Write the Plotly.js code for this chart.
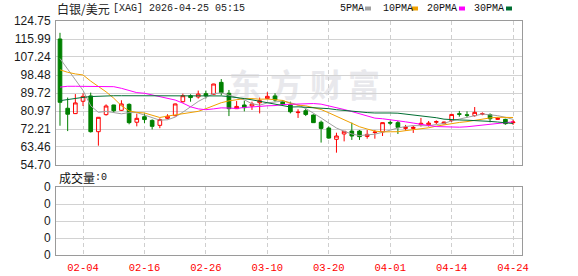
<!DOCTYPE html>
<html>
<head>
<meta charset="utf-8">
<script src="https://cdn.plot.ly/plotly-3.0.1.min.js"></script>
<style>
html,body{margin:0;padding:0;background:#fff;}
#chart{width:578px;height:276px;}
</style>
</head>
<body>
<div id="chart"></div>
<script>
// ---- data ----
const dates = ["01-30","02-02","02-03","02-04","02-05","02-06","02-09","02-10","02-11","02-12",
  "02-13","02-16","02-17","02-18","02-19","02-20","02-23","02-24","02-25","02-26",
  "02-27","03-02","03-03","03-04","03-05","03-06","03-09","03-10","03-11","03-12",
  "03-13","03-16","03-17","03-18","03-19","03-20","03-23","03-24","03-25","03-26",
  "03-27","03-30","03-31","04-01","04-02","04-06","04-07","04-08","04-09","04-10",
  "04-13","04-14","04-15","04-16","04-17","04-20","04-21","04-22","04-23","04-24"];

const open  = [116.0,82.3,79.7,85.7,88.3,70.9,79.2,83.9,81.3,84.2, 75.5,78.2,76.4,74.0,77.4,78.7,85.5,88.4,87.8,89.4,
  89.1,94.9,89.6,82.1,83.9,83.4,85.0,87.0,88.3,85.7, 84.0,80.2,81.1,79.0,75.5,72.7,67.2,69.8,71.2,71.2,
  68.6,70.5,70.8,75.4,75.3,72.5,72.5,74.3,74.3,75.5, 74.8,76.3,79.6,79.1,78.7,79.4,79.2,76.9,76.9,75.3];
const high  = [119.0,87.5,89.2,89.6,89.9,78.0,84.2,84.0,86.2,84.7, 79.7,79.7,76.9,77.4,79.4,84.6,89.4,89.1,90.9,90.9,
  94.2,96.5,91.2,85.8,86.0,85.5,87.5,90.1,89.6,86.3, 85.5,81.8,82.1,79.3,76.3,73.4,70.4,71.2,75.3,71.7,
  71.7,71.7,75.4,76.3,76.1,74.2,73.8,77.6,76.1,76.4, 75.8,79.4,81.0,80.8,82.9,80.3,79.8,77.9,77.2,76.6];
const low   = [73.8,71.2,79.5,83.4,70.5,64.1,78.7,80.0,81.0,74.5, 73.5,75.0,72.0,72.6,76.9,78.3,85.0,85.5,87.0,87.1,
  88.8,88.6,78.5,82.0,80.8,81.5,79.8,86.9,85.5,83.4, 79.8,77.6,78.5,75.3,65.6,67.5,60.7,66.2,66.9,66.9,
  67.5,67.5,68.8,74.0,69.8,71.4,70.3,73.4,73.4,74.6, 74.5,75.6,78.2,77.9,78.2,78.9,75.5,76.6,74.3,74.2];
const close = [85.2,79.4,84.9,88.1,70.9,77.9,83.4,81.1,84.4,75.3, 77.4,76.8,73.5,76.8,78.4,84.4,88.4,87.5,89.2,88.3,
  94.1,89.9,82.1,83.2,82.6,84.4,86.0,88.1,86.3,84.2, 80.6,80.4,79.3,75.3,72.5,67.8,68.8,71.1,68.8,68.5,
  69.6,70.7,75.3,75.1,73.0,73.0,73.0,75.0,75.1,75.8, 75.6,79.3,79.4,78.9,80.3,79.6,77.2,77.4,74.8,75.6];

const ma5  = [106.5,101.5,96.5,91.0,83.5,80.3,80.8,80.3,79.6,80.2, 80.2,79.0,77.6,76.5,76.7,78.0,80.4,83.1,85.6,87.6,
  89.4,89.8,88.7,87.5,86.4,84.5,83.8,84.9,85.5,85.8, 85.0,83.9,82.2,80.0,77.6,75.1,72.7,71.1,69.8,69.0,
  69.4,69.7,70.6,71.8,72.7,73.4,73.9,73.8,73.8,74.4, 74.9,76.2,77.0,77.8,78.7,79.5,79.1,78.7,77.9,76.9];
const ma10 = [101.0,99.8,99.0,98.5,95.5,93.0,90.3,87.2,83.5,81.0, 80.3,80.0,78.9,77.8,78.5,79.1,79.7,80.3,80.8,82.1,
  83.7,85.0,85.9,86.5,87.0,87.0,86.7,86.8,86.5,86.1, 84.7,83.8,83.5,82.7,81.7,80.1,78.3,76.6,74.9,73.3,
  72.2,71.2,70.8,70.8,70.9,71.4,71.8,72.2,72.8,73.6, 74.2,75.0,75.4,75.8,76.5,77.2,77.6,77.9,77.8,77.8];
const ma20 = [92.6,93.0,93.0,93.0,93.0,93.0,93.0,92.8,92.0,90.9, 89.9,89.6,88.8,87.8,87.2,86.3,84.8,83.0,82.0,81.6,
  82.0,82.5,82.4,82.2,82.7,83.1,83.2,83.5,83.6,84.1, 84.2,84.4,84.7,84.6,84.3,83.5,82.5,81.7,80.7,79.7,
  78.5,77.5,77.2,76.8,76.3,75.7,75.1,74.4,73.9,73.4, 73.2,73.1,73.1,73.3,73.7,74.3,74.7,75.0,75.3,75.7];
const ma30 = [86.0,86.6,87.1,87.6,88.0,88.2,88.3,88.4,88.4,88.4, 88.4,88.5,88.6,88.6,88.5,88.4,88.4,88.4,88.4,88.4,
  88.4,88.3,88.0,87.6,87.0,86.4,85.7,85.0,84.2,83.4, 82.9,83.0,82.8,82.3,82.4,82.1,81.6,81.2,80.7,80.5,
  80.2,80.0,80.1,80.0,79.9,79.5,79.0,78.5,78.1,77.7, 77.0,76.7,76.6,76.5,76.4,76.2,75.9,75.6,75.2,74.9];

const volume = dates.map(() => 0);

const xTickDates = ["02-04","02-16","02-26","03-10","03-20","04-01","04-14","04-24"];
const yTicks = [54.70,63.46,72.21,80.97,89.72,98.48,107.24,115.99,124.75];
const yTickText = ["54.70","63.46","72.21","80.97","89.72","98.48","107.24","115.99","124.75"];
const maNames = ["5PMA","10PMA","20PMA","30PMA"];
const maColors = ["#a0a0a0","#f0a000","#ff00ff","#006e32"];
const titleCn = "白银/美元";
const titleRest = "[XAG] 2026-04-25 05:15";
const volCn = "成交量";
const volRest = ":0";
const watermark = ["东","方","财","富"];

// ---- geometry helpers (pixel -> paper) ----
const W = 578, H = 276, L = 56, R = 56, T = 21, B = 21;
const PW = W - L - R, PH = H - T - B;
const px = v => (v - L) / PW;
const py = v => (H - B - v) / PH;

const mono = "Liberation Mono, DejaVu Sans Mono, monospace";
const cjk = "Noto Sans CJK SC";

const traces = [
  {
    type: "candlestick", x: dates, open: open, high: high, low: low, close: close,
    xaxis: "x", yaxis: "y",
    increasing: {line: {color: "#ff0000", width: 1}, fillcolor: "rgba(255,255,255,0)"},
    decreasing: {line: {color: "#008000", width: 1}, fillcolor: "#008000"},
    whiskerwidth: 0, showlegend: false, hoverinfo: "skip"
  }
];
[ma5, ma10, ma20, ma30].forEach((arr, k) => {
  traces.push({type: "scatter", mode: "lines", x: dates, y: arr, xaxis: "x", yaxis: "y",
    line: {color: maColors[k], width: 1}, showlegend: false, hoverinfo: "skip"});
});
traces.push({type: "bar", x: dates, y: volume, xaxis: "x2", yaxis: "y2",
  marker: {color: "#008000"}, showlegend: false, hoverinfo: "skip"});

const annotations = [];
function txt(x, y, s, font) {
  annotations.push({xref: "paper", yref: "paper", x: px(x), y: py(y), xanchor: "left", yanchor: "middle",
    showarrow: false, text: s, font: font});
}
txt(55, 9, titleCn, {family: cjk, size: 12, color: "#222"});
txt(111, 9, titleRest, {family: mono, size: 10, color: "#222"});
const legX = [338, 381, 425, 472];
const sqX = [365, 412, 459, 506];
maNames.forEach((n, k) => txt(legX[k], 9, n, {family: mono, size: 10, color: "#111"}));
txt(57, 177, volCn, {family: cjk, size: 12, color: "#111"});
txt(93, 177, volRest, {family: mono, size: 10, color: "#111"});

const shapes = [];
maColors.forEach((c, k) => {
  shapes.push({type: "rect", xref: "paper", yref: "paper", x0: px(sqX[k]), x1: px(sqX[k] + 6),
    y0: py(10.5), y1: py(6.5), line: {width: 0}, fillcolor: c});
});
const wmX = [245, 286, 326, 364];
watermark.forEach((ch, k) => {
  shapes.push({type: "rect", xref: "paper", yref: "paper", layer: "below",
    x0: px(wmX[k] - 20), x1: px(wmX[k] + 20), y0: py(108), y1: py(68),
    line: {width: 0}, fillcolor: "rgba(0,0,0,0)",
    label: {text: ch, textposition: "middle center",
      font: {family: cjk, size: 32, weight: 700, color: "#e8e8ec"}}});
});

const gridDash = "4px,3px";
const layout = {
  width: W, height: H,
  margin: {l: L, r: R, t: T, b: B, pad: 0},
  paper_bgcolor: "#fff", plot_bgcolor: "#fff",
  showlegend: false, boxgap: 0.32, bargap: 0.3,
  xaxis: {
    domain: [0, 1], anchor: "y", type: "category",
    categoryorder: "array", categoryarray: dates,
    range: [-0.52, 60.16], tickvals: xTickDates, showticklabels: false, ticks: "",
    showgrid: true, gridcolor: "#cfcfcf", griddash: gridDash, gridwidth: 1,
    showline: true, mirror: true, linecolor: "#9a9a9a", linewidth: 1,
    zeroline: false, rangeslider: {visible: false}, fixedrange: true
  },
  yaxis: {
    domain: [py(165), 1], anchor: "x",
    range: [54.70, 124.75], tickvals: yTicks, ticktext: yTickText,
    tickfont: {family: "Liberation Sans, Arial", size: 12, color: "#1a1a1a"},
    showgrid: true, gridcolor: "#d2d2d2", gridwidth: 1, ticks: "",
    showline: true, mirror: true, linecolor: "#9a9a9a", linewidth: 1, zeroline: false,
    ticklabelstandoff: 2, fixedrange: true
  },
  xaxis2: {
    domain: [0, 1], anchor: "y2", type: "category",
    categoryorder: "array", categoryarray: dates,
    range: [-0.52, 60.16], tickvals: xTickDates, ticktext: xTickDates,
    tickfont: {family: mono, size: 10.5, color: "#ff0000"}, ticks: "",
    showgrid: true, gridcolor: "#cfcfcf", griddash: gridDash, gridwidth: 1,
    showline: true, mirror: true, linecolor: "#9a9a9a", linewidth: 1,
    zeroline: false, ticklabelstandoff: 2, fixedrange: true
  },
  yaxis2: {
    domain: [0, py(187)], anchor: "x2",
    range: [0, 4], tickvals: [0, 1, 2, 3, 4], ticktext: ["0", "0", "0", "0", "0"],
    tickfont: {family: "Liberation Sans, Arial", size: 12, color: "#1a1a1a"},
    showgrid: true, gridcolor: "#d2d2d2", ticks: "",
    showline: true, mirror: true, linecolor: "#9a9a9a", linewidth: 1, zeroline: false,
    ticklabelstandoff: 2, fixedrange: true
  },
  annotations: annotations,
  shapes: shapes
};

Plotly.newPlot("chart", traces, layout, {staticPlot: true, displayModeBar: false});
</script>
</body>
</html>
